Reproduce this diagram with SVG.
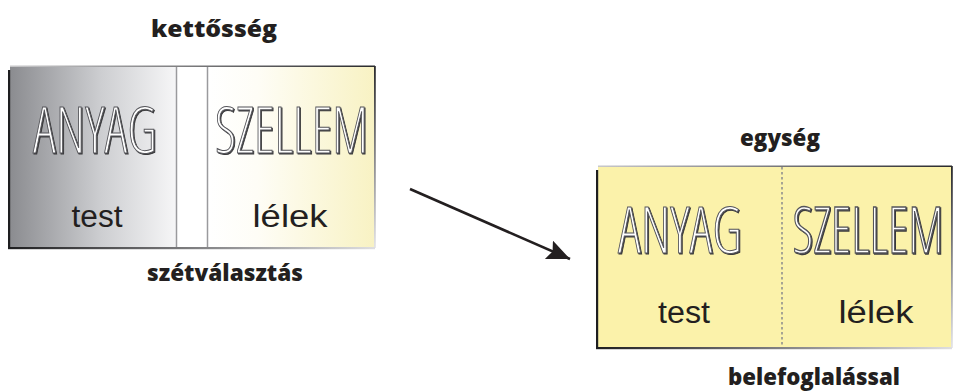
<svg xmlns="http://www.w3.org/2000/svg" width="954" height="392" viewBox="0 0 954 392">
<style>
.head{font-family:"Open Sans","Noto Sans","Liberation Sans",sans-serif;font-weight:800;font-size:22px;fill:#231f20;text-anchor:middle}
.big{font-family:"Open Sans","DejaVu Sans","Liberation Sans",sans-serif;font-weight:300;font-stretch:condensed;font-size:64px;fill:#ffffff;stroke:#55555a;stroke-width:1;text-anchor:middle}
.bigsh{font-family:"Open Sans","DejaVu Sans","Liberation Sans",sans-serif;font-weight:300;font-stretch:condensed;font-size:64px;fill:#3a3a3c;stroke:#3a3a3c;stroke-width:1;text-anchor:middle}
.small{font-family:"Liberation Sans","Noto Sans",sans-serif;font-size:31px;fill:#231f20;text-anchor:middle}
</style>
<defs>
<linearGradient id="gGray" x1="0" y1="0" x2="1" y2="0">
<stop offset="0" stop-color="#8b8c90"/>
<stop offset="0.55" stop-color="#cdced1"/>
<stop offset="1" stop-color="#f6f6f7"/>
</linearGradient>
<linearGradient id="gYel" x1="0" y1="0" x2="1" y2="0">
<stop offset="0" stop-color="#ffffff"/>
<stop offset="0.3" stop-color="#fefdf6"/>
<stop offset="1" stop-color="#f8f2c3"/>
</linearGradient>
<linearGradient id="gTop" x1="0" y1="0" x2="1" y2="0">
<stop offset="0" stop-color="#c8c8ca"/>
<stop offset="1" stop-color="#2a2a2c"/>
</linearGradient>
<linearGradient id="gBot" x1="0" y1="0" x2="1" y2="0">
<stop offset="0" stop-color="#1e1e20"/>
<stop offset="1" stop-color="#dedee0"/>
</linearGradient>
<linearGradient id="gRight" x1="0" y1="0" x2="0" y2="1">
<stop offset="0" stop-color="#2a2a2c"/>
<stop offset="1" stop-color="#e4e4e6"/>
</linearGradient>
<marker id="ah" markerUnits="userSpaceOnUse" markerWidth="26" markerHeight="22" refX="23" refY="10" orient="auto">
<path d="M0,0 L23,10 L0,20 L4,10 z" fill="#231f20"/>
</marker>
</defs>

<g id="title-kettosseg"><text class="head" x="214" y="37" textLength="126" lengthAdjust="spacingAndGlyphs">kettősség</text></g>

<g id="node-dualism">
<rect x="10" y="66" width="166" height="182" fill="url(#gGray)"/>
<rect x="176" y="66" width="32" height="182" fill="#ffffff"/>
<rect x="208" y="66" width="167" height="182" fill="url(#gYel)"/>
<line x1="176.5" y1="66" x2="176.5" y2="248" stroke="#9a9a9d" stroke-width="1.5"/>
<line x1="207.5" y1="66" x2="207.5" y2="248" stroke="#9a9a9d" stroke-width="1.5"/>
<rect x="10" y="65.5" width="365" height="1.5" fill="url(#gTop)"/>
<rect x="374" y="66" width="1.8" height="182" fill="url(#gRight)"/>
<rect x="8" y="247" width="367" height="2.2" fill="url(#gBot)"/>
<rect x="8" y="70" width="2.2" height="179" fill="#1e1e20"/>
<text class="bigsh" x="96" y="154" textLength="124" lengthAdjust="spacingAndGlyphs">ANYAG</text>
<text class="big" x="95" y="153" textLength="124" lengthAdjust="spacingAndGlyphs">ANYAG</text>
<text class="bigsh" x="292.5" y="154" textLength="153" lengthAdjust="spacingAndGlyphs">SZELLEM</text>
<text class="big" x="291.5" y="153" textLength="153" lengthAdjust="spacingAndGlyphs">SZELLEM</text>
<text class="small" x="97" y="227" textLength="51" lengthAdjust="spacingAndGlyphs">test</text>
<text class="small" x="290" y="227" textLength="75" lengthAdjust="spacingAndGlyphs">lélek</text>
</g>
<g id="label-szetvalasztas"><text class="head" x="225" y="281" textLength="156" lengthAdjust="spacingAndGlyphs">szétválasztás</text></g>

<g id="connectors">
<line x1="410" y1="189" x2="570" y2="259" stroke="#231f20" stroke-width="2.6" marker-end="url(#ah)"/>
</g>

<g id="title-egyseg"><text class="head" x="780" y="146" textLength="80" lengthAdjust="spacingAndGlyphs">egység</text></g>

<g id="node-unity">
<rect x="598" y="166" width="354" height="182" fill="#fbf2aa"/>
<line x1="782" y1="167" x2="782" y2="348" stroke="#8a8a8c" stroke-width="1.5" stroke-dasharray="2.5,2.5"/>
<rect x="598" y="165.5" width="354" height="1.5" fill="url(#gTop)"/>
<rect x="951" y="166" width="1.8" height="182" fill="url(#gRight)"/>
<rect x="596" y="347" width="356" height="2.2" fill="url(#gBot)"/>
<rect x="596" y="170" width="2.2" height="179" fill="#1e1e20"/>
<text class="bigsh" x="681" y="254" textLength="124" lengthAdjust="spacingAndGlyphs">ANYAG</text>
<text class="big" x="680" y="253" textLength="124" lengthAdjust="spacingAndGlyphs">ANYAG</text>
<g transform="translate(868,253) scale(0.6,1)">
<text class="bigsh" x="1.7" y="1" textLength="252" lengthAdjust="spacingAndGlyphs" style="stroke-width:1.3">SZELLEM</text>
<text class="big" x="0" y="0" textLength="252" lengthAdjust="spacingAndGlyphs" style="stroke-width:1.3">SZELLEM</text>
</g>
<text class="small" x="684" y="323" textLength="52" lengthAdjust="spacingAndGlyphs">test</text>
<text class="small" x="876" y="323" textLength="75" lengthAdjust="spacingAndGlyphs">lélek</text>
</g>
<g id="label-belefoglalassal"><text class="head" x="814" y="385" textLength="172" lengthAdjust="spacingAndGlyphs">belefoglalással</text></g>
</svg>
